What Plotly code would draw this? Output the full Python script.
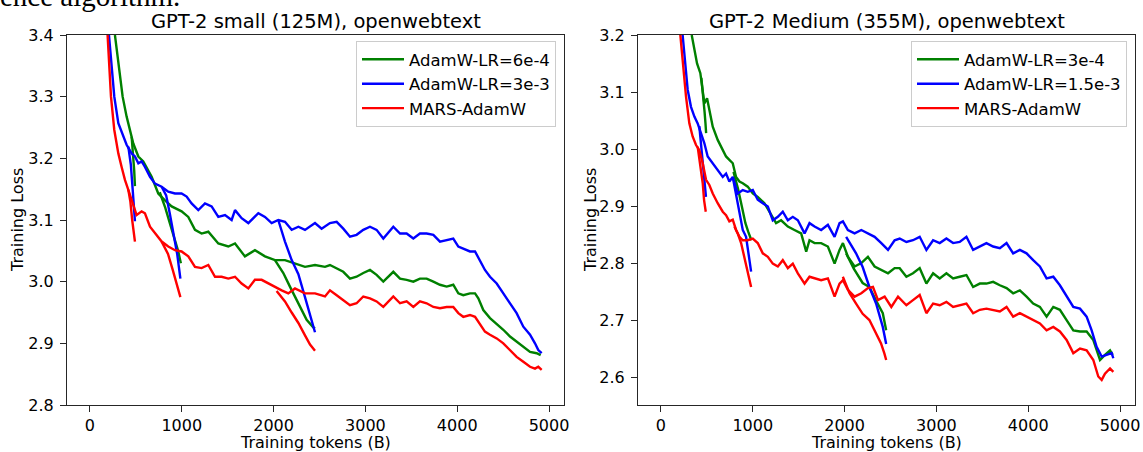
import plotly.graph_objects as go

# ---------------- data: GPT-2 small (125M) ----------------
s_green_long_x = [272, 309, 356, 399, 436, 472, 527, 581, 672, 744, 817, 890, 998, 1071, 1144, 1216, 1289, 1398, 1507, 1580,
                  1688, 1797, 1906, 2015, 2124, 2233, 2342, 2451, 2560, 2614, 2687, 2759, 2832, 2904, 2977, 3050, 3122, 3195,
                  3304, 3377, 3449, 3522, 3594, 3667, 3740, 3812, 3885, 3957, 4012, 4066, 4139, 4194, 4230, 4284, 4357, 4430,
                  4502, 4575, 4647, 4720, 4793, 4865, 4909]
s_green_long_y = [3.400, 3.354, 3.300, 3.268, 3.246, 3.224, 3.203, 3.195, 3.170, 3.143, 3.132, 3.122, 3.114, 3.105, 3.084, 3.078,
                  3.081, 3.062, 3.057, 3.062, 3.041, 3.051, 3.041, 3.035, 3.035, 3.030, 3.024, 3.027, 3.024, 3.027, 3.022, 3.016,
                  3.005, 3.008, 3.014, 3.019, 3.011, 3.000, 3.016, 3.005, 3.003, 3.000, 3.005, 3.005, 3.000, 2.995, 2.992, 2.995,
                  2.981, 2.978, 2.981, 2.981, 2.973, 2.954, 2.941, 2.932, 2.922, 2.911, 2.903, 2.895, 2.886, 2.884, 2.881]
s_blue_long_x = [207, 236, 265, 309, 363, 399, 454, 490, 527, 563, 599, 654, 708, 781, 853, 926, 998, 1053, 1107, 1180, 1253,
                 1325, 1398, 1471, 1543, 1580, 1652, 1725, 1834, 1906, 1979, 2051, 2124, 2197, 2270, 2342, 2451, 2523, 2614,
                 2687, 2759, 2832, 2904, 2977, 3050, 3122, 3195, 3304, 3377, 3449, 3522, 3594, 3667, 3740, 3812, 3885, 3957,
                 4012, 4066, 4139, 4194, 4248, 4302, 4357, 4430, 4502, 4575, 4647, 4720, 4793, 4847, 4883, 4920]
s_blue_long_y = [3.400, 3.354, 3.300, 3.257, 3.235, 3.222, 3.208, 3.203, 3.192, 3.195, 3.186, 3.170, 3.159, 3.154, 3.146, 3.143,
                 3.143, 3.138, 3.127, 3.116, 3.127, 3.122, 3.105, 3.108, 3.100, 3.116, 3.103, 3.095, 3.111, 3.105, 3.095, 3.100,
                 3.097, 3.084, 3.089, 3.084, 3.095, 3.086, 3.095, 3.097, 3.086, 3.073, 3.076, 3.084, 3.089, 3.084, 3.070, 3.089,
                 3.078, 3.078, 3.070, 3.078, 3.078, 3.076, 3.065, 3.068, 3.070, 3.057, 3.054, 3.049, 3.049, 3.035, 3.019, 3.008,
                 2.997, 2.981, 2.965, 2.949, 2.927, 2.914, 2.900, 2.889, 2.884]
s_red_long_x = [192, 207, 229, 265, 309, 345, 381, 418, 454, 508, 563, 599, 654, 708, 781, 853, 926, 998, 1071, 1144, 1216,
                1289, 1362, 1434, 1507, 1580, 1652, 1725, 1797, 1870, 1943, 2015, 2088, 2160, 2233, 2342, 2451, 2560, 2614,
                2687, 2759, 2832, 2904, 2977, 3050, 3122, 3195, 3304, 3377, 3449, 3522, 3594, 3667, 3740, 3812, 3885, 3957,
                4012, 4066, 4139, 4194, 4248, 4302, 4357, 4430, 4502, 4575, 4647, 4720, 4793, 4847, 4883, 4920]
s_red_long_y = [3.400, 3.354, 3.300, 3.246, 3.208, 3.186, 3.165, 3.149, 3.132, 3.108, 3.114, 3.111, 3.089, 3.078, 3.065, 3.057,
                3.051, 3.049, 3.041, 3.024, 3.022, 3.027, 3.008, 3.008, 3.005, 3.008, 2.997, 2.989, 3.003, 3.003, 2.997, 2.992,
                2.986, 2.981, 2.989, 2.981, 2.981, 2.976, 2.986, 2.978, 2.970, 2.962, 2.965, 2.976, 2.973, 2.968, 2.959, 2.976,
                2.965, 2.968, 2.959, 2.968, 2.965, 2.959, 2.957, 2.959, 2.959, 2.949, 2.943, 2.946, 2.943, 2.930, 2.919, 2.914,
                2.908, 2.900, 2.889, 2.878, 2.870, 2.862, 2.859, 2.862, 2.857]

s_green_500_x = [454, 470, 482, 490]
s_green_500_y = [3.235, 3.210, 3.180, 3.155]
s_blue_500_x = [418, 445, 465, 480, 490]
s_blue_500_y = [3.219, 3.190, 3.150, 3.120, 3.098]
s_red_500_x = [418, 440, 460, 475, 490]
s_red_500_y = [3.149, 3.130, 3.100, 3.085, 3.065]
s_green_1000_x = [760, 820, 870, 920, 960, 990]
s_green_1000_y = [3.145, 3.120, 3.095, 3.070, 3.050, 3.030]
s_blue_1000_x = [781, 830, 870, 910, 950, 985]
s_blue_1000_y = [3.154, 3.140, 3.110, 3.080, 3.045, 3.005]
s_red_1000_x = [781, 850, 900, 940, 985]
s_red_1000_y = [3.065, 3.045, 3.020, 3.000, 2.975]
s_green_2500_x = [2015, 2106, 2178, 2287, 2360, 2432, 2451]
s_green_2500_y = [3.035, 3.014, 2.992, 2.959, 2.938, 2.926, 2.924]
s_blue_2500_x = [2051, 2124, 2197, 2270, 2342, 2397, 2451]
s_blue_2500_y = [3.100, 3.065, 3.035, 3.012, 2.975, 2.945, 2.918]
s_red_2500_x = [2033, 2124, 2197, 2270, 2342, 2397, 2451]
s_red_2500_y = [2.985, 2.968, 2.950, 2.933, 2.913, 2.898, 2.888]

# ---------------- data: GPT-2 Medium (355M) ----------------
m_green_long_x = [335, 364, 393, 429, 455, 473, 502, 527, 564, 618, 673, 709, 745, 782, 818, 855, 891, 945, 1000, 1054, 1127,
                  1200, 1254, 1309, 1382, 1454, 1527, 1582, 1618, 1673, 1745, 1818, 1891, 1945, 1982, 2036, 2109, 2182, 2254,
                  2327, 2400, 2473, 2545, 2600, 2673, 2745, 2818, 2891, 2964, 3036, 3109, 3182, 3254, 3327, 3400, 3473, 3545,
                  3618, 3691, 3764, 3836, 3909, 3982, 4054, 4127, 4200, 4273, 4345, 4418, 4491, 4564, 4636, 4709, 4745, 4782,
                  4836, 4891, 4920]
m_green_long_y = [3.200, 3.174, 3.150, 3.133, 3.104, 3.080, 3.089, 3.068, 3.039, 3.016, 2.998, 2.987, 2.981, 2.975, 2.951, 2.943,
                  2.940, 2.934, 2.922, 2.916, 2.905, 2.884, 2.870, 2.875, 2.864, 2.858, 2.852, 2.820, 2.840, 2.835, 2.835, 2.829,
                  2.799, 2.823, 2.835, 2.811, 2.794, 2.800, 2.811, 2.794, 2.788, 2.782, 2.791, 2.791, 2.776, 2.782, 2.791, 2.764,
                  2.782, 2.773, 2.782, 2.773, 2.776, 2.779, 2.758, 2.764, 2.764, 2.767, 2.761, 2.756, 2.747, 2.752, 2.741, 2.729,
                  2.723, 2.706, 2.723, 2.718, 2.700, 2.682, 2.680, 2.680, 2.665, 2.647, 2.630, 2.639, 2.647, 2.639]
m_blue_long_x = [236, 262, 291, 327, 364, 400, 436, 473, 509, 564, 618, 673, 709, 745, 782, 836, 891, 945, 1000, 1054, 1109,
                 1164, 1218, 1273, 1327, 1382, 1436, 1491, 1564, 1618, 1673, 1745, 1818, 1891, 1945, 1982, 2036, 2109, 2182,
                 2254, 2327, 2400, 2473, 2545, 2600, 2673, 2745, 2818, 2891, 2964, 3036, 3109, 3182, 3254, 3327, 3400, 3473,
                 3545, 3618, 3691, 3764, 3836, 3909, 3982, 4054, 4127, 4200, 4273, 4345, 4418, 4491, 4564, 4636, 4691, 4745,
                 4800, 4854, 4909, 4927]
m_blue_long_y = [3.200, 3.150, 3.104, 3.074, 3.057, 3.045, 3.027, 3.010, 2.987, 2.975, 2.963, 2.951, 2.957, 2.943, 2.951, 2.922,
                 2.928, 2.925, 2.928, 2.911, 2.905, 2.899, 2.875, 2.881, 2.890, 2.875, 2.881, 2.875, 2.852, 2.870, 2.864, 2.858,
                 2.867, 2.846, 2.870, 2.873, 2.858, 2.852, 2.858, 2.852, 2.846, 2.835, 2.823, 2.840, 2.843, 2.837, 2.840, 2.846,
                 2.823, 2.840, 2.835, 2.843, 2.835, 2.837, 2.846, 2.823, 2.829, 2.835, 2.829, 2.826, 2.835, 2.817, 2.823, 2.817,
                 2.805, 2.794, 2.773, 2.776, 2.761, 2.741, 2.723, 2.720, 2.706, 2.682, 2.653, 2.636, 2.639, 2.642, 2.633]
m_red_long_x = [211, 236, 273, 309, 345, 382, 418, 455, 491, 527, 564, 618, 673, 709, 745, 782, 818, 855, 891, 945, 1000, 1054,
                1109, 1164, 1218, 1273, 1327, 1382, 1436, 1491, 1564, 1618, 1673, 1745, 1818, 1891, 1945, 1982, 2036, 2109,
                2182, 2254, 2309, 2364, 2436, 2509, 2582, 2673, 2745, 2818, 2891, 2964, 3036, 3109, 3182, 3254, 3327, 3400,
                3473, 3545, 3618, 3691, 3764, 3836, 3909, 3982, 4054, 4127, 4200, 4273, 4345, 4418, 4491, 4564, 4636, 4709,
                4763, 4800, 4836, 4891, 4927]
m_red_long_y = [3.200, 3.150, 3.092, 3.045, 3.022, 3.007, 2.998, 2.975, 2.946, 2.937, 2.922, 2.905, 2.890, 2.884, 2.873, 2.876,
                2.858, 2.846, 2.840, 2.840, 2.843, 2.835, 2.817, 2.811, 2.799, 2.794, 2.805, 2.791, 2.799, 2.782, 2.764, 2.776,
                2.773, 2.770, 2.773, 2.741, 2.764, 2.770, 2.753, 2.741, 2.747, 2.756, 2.758, 2.735, 2.741, 2.723, 2.741, 2.726,
                2.735, 2.744, 2.712, 2.729, 2.726, 2.732, 2.723, 2.726, 2.729, 2.712, 2.718, 2.720, 2.718, 2.715, 2.723, 2.706,
                2.712, 2.706, 2.700, 2.694, 2.682, 2.688, 2.680, 2.665, 2.642, 2.650, 2.647, 2.630, 2.601, 2.595, 2.606, 2.615,
                2.609]

m_green_500_x = [440, 460, 475, 485, 492]
m_green_500_y = [3.125, 3.095, 3.065, 3.045, 3.028]
m_blue_500_x = [418, 440, 460, 475, 490]
m_blue_500_y = [3.040, 3.000, 2.960, 2.940, 2.916]
m_red_500_x = [400, 430, 455, 470, 488]
m_red_500_y = [3.004, 2.970, 2.940, 2.910, 2.890]
m_green_1000_x = [790, 840, 880, 920, 950, 985]
m_green_1000_y = [2.960, 2.930, 2.900, 2.870, 2.855, 2.840]
m_blue_1000_x = [782, 818, 855, 891, 927, 963, 982]
m_blue_1000_y = [2.951, 2.922, 2.893, 2.858, 2.846, 2.811, 2.785]
m_red_1000_x = [800, 836, 873, 909, 945, 982]
m_red_1000_y = [2.864, 2.852, 2.835, 2.811, 2.788, 2.758]
m_green_2500_x = [2017, 2100, 2197, 2270, 2340, 2416, 2453]
m_green_2500_y = [2.817, 2.790, 2.765, 2.758, 2.735, 2.712, 2.682]
m_blue_2500_x = [2017, 2125, 2197, 2270, 2343, 2416, 2453]
m_blue_2500_y = [2.846, 2.817, 2.793, 2.758, 2.729, 2.688, 2.658]
m_red_2500_x = [1981, 2054, 2125, 2197, 2270, 2343, 2397, 2434, 2453]
m_red_2500_y = [2.776, 2.747, 2.729, 2.711, 2.700, 2.676, 2.659, 2.641, 2.630]

titles = ["GPT-2 small (125M), openwebtext", "GPT-2 Medium (355M), openwebtext"]
names_small = ["AdamW-LR=6e-4", "AdamW-LR=3e-3", "MARS-AdamW"]
names_medium = ["AdamW-LR=3e-4", "AdamW-LR=1.5e-3", "MARS-AdamW"]
x_label = "Training tokens (B)"
y_label = "Training Loss"
caption_tail = "ence algorithm."

# ---------------- figure ----------------
W, H = 1143, 452
FONT = "DejaVu Sans"
colors = ["#008000", "#0000ff", "#ff0000"]


def px(x):
    return x / W


def py(y):
    return 1 - y / H


fig = go.Figure()

panels = [
    dict(xa="x", ya="y", legend="legend", names=names_small,
         runs=[[(s_green_long_x, s_green_long_y), (s_green_500_x, s_green_500_y), (s_green_1000_x, s_green_1000_y), (s_green_2500_x, s_green_2500_y)],
               [(s_blue_long_x, s_blue_long_y), (s_blue_500_x, s_blue_500_y), (s_blue_1000_x, s_blue_1000_y), (s_blue_2500_x, s_blue_2500_y)],
               [(s_red_long_x, s_red_long_y), (s_red_500_x, s_red_500_y), (s_red_1000_x, s_red_1000_y), (s_red_2500_x, s_red_2500_y)]]),
    dict(xa="x2", ya="y2", legend="legend2", names=names_medium,
         runs=[[(m_green_long_x, m_green_long_y), (m_green_500_x, m_green_500_y), (m_green_1000_x, m_green_1000_y), (m_green_2500_x, m_green_2500_y)],
               [(m_blue_long_x, m_blue_long_y), (m_blue_500_x, m_blue_500_y), (m_blue_1000_x, m_blue_1000_y), (m_blue_2500_x, m_blue_2500_y)],
               [(m_red_long_x, m_red_long_y), (m_red_500_x, m_red_500_y), (m_red_1000_x, m_red_1000_y), (m_red_2500_x, m_red_2500_y)]]),
]

for p in panels:
    for ci, (name, runs) in enumerate(zip(p["names"], p["runs"])):
        for ri, (xs, ys) in enumerate(runs):
            fig.add_trace(go.Scatter(
                x=xs, y=ys, mode="lines", name=name,
                line=dict(color=colors[ci], width=2.4),
                xaxis=p["xa"], yaxis=p["ya"], legend=p["legend"],
                legendgroup=p["legend"] + name, showlegend=(ri == 0),
                hoverinfo="skip"))

axis_common = dict(showline=True, linecolor="#262626", linewidth=1.1, mirror=True,
                   ticks="outside", ticklen=6, tickwidth=1.1, tickcolor="#262626",
                   showgrid=False, zeroline=False,
                   tickfont=dict(family=FONT, size=16, color="black"))

yb, yt = py(405), py(35)
legend_common = dict(yanchor="top", xanchor="right", bgcolor="rgba(255,255,255,0.8)", bordercolor="#cccccc",
                     borderwidth=1, font=dict(family=FONT, size=16.5, color="black"), tracegroupgap=0, itemwidth=42)
fig.update_layout(
    width=W, height=H, autosize=False,
    margin=dict(l=0, r=0, t=0, b=0, autoexpand=False),
    paper_bgcolor="white", plot_bgcolor="white",
    xaxis=dict(domain=[px(67), px(564)], range=[-250, 5163], tickvals=[0, 1000, 2000, 3000, 4000, 5000],
               tickformat="d", anchor="y", **axis_common),
    yaxis=dict(domain=[yb, yt], range=[2.8, 3.4], tickvals=[2.8, 2.9, 3.0, 3.1, 3.2, 3.3, 3.4],
               tickformat=".1f", anchor="x", ticklabelstandoff=3, **axis_common),
    xaxis2=dict(domain=[px(638), px(1135)], range=[-250, 5163], tickvals=[0, 1000, 2000, 3000, 4000, 5000],
                tickformat="d", anchor="y2", **axis_common),
    yaxis2=dict(domain=[yb, yt], range=[2.551, 3.2], tickvals=[2.6, 2.7, 2.8, 2.9, 3.0, 3.1, 3.2],
                tickformat=".1f", anchor="x2", ticklabelstandoff=3, **axis_common),
    legend=dict(x=px(556), y=py(41), **legend_common),
    legend2=dict(x=px(1127), y=py(41), **legend_common),
    showlegend=True,
)

ann = []
for t, cx in zip(titles, [(67 + 564) / 2, (638 + 1135) / 2]):
    ann.append(dict(text=t, x=px(cx), y=py(21), xref="paper", yref="paper", xanchor="center", yanchor="middle",
                    showarrow=False, font=dict(family=FONT, size=19.5, color="black")))
    ann.append(dict(text=x_label, x=px(cx), y=py(442), xref="paper", yref="paper", xanchor="center", yanchor="middle",
                    showarrow=False, font=dict(family=FONT, size=16, color="black")))
for lx in [17, 590]:
    ann.append(dict(text=y_label, x=px(lx), y=py(220), xref="paper", yref="paper", xanchor="center", yanchor="middle",
                    textangle=-90, showarrow=False, font=dict(family=FONT, size=16, color="black")))
ann.append(dict(text=caption_tail, x=px(-2), y=py(-4), xref="paper", yref="paper", xanchor="left", yanchor="middle",
                showarrow=False, font=dict(family="Liberation Serif", size=29, color="black")))
fig.update_layout(annotations=ann)

fig.write_html("out.html", config={"displayModeBar": False},
               post_script="document.body.style.margin='0px';document.body.style.overflow='hidden';")
